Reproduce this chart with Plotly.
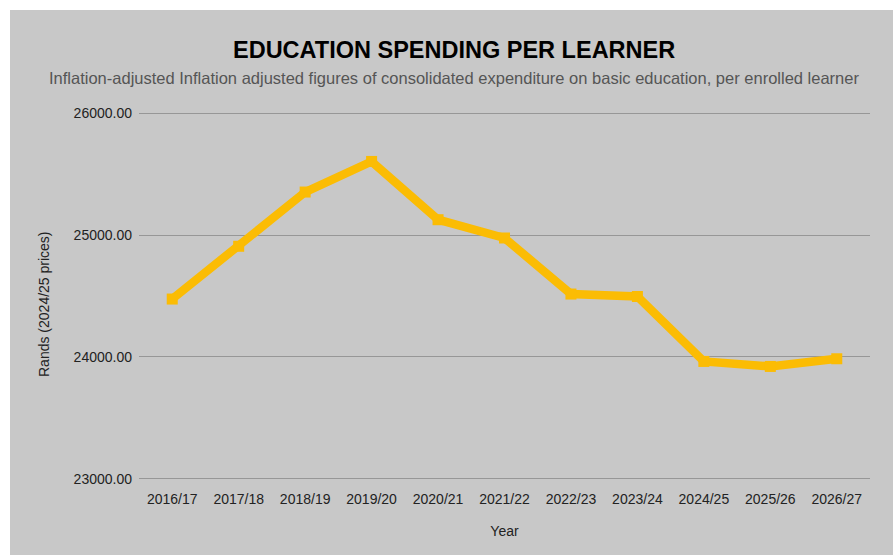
import plotly.graph_objects as go

# Financial years and inflation-adjusted spend per enrolled learner (Rands, 2024/25 prices)
years = ["2016/17", "2017/18", "2018/19", "2019/20", "2020/21", "2021/22",
         "2022/23", "2023/24", "2024/25", "2025/26", "2026/27"]
spend_per_learner = [24475, 24908, 25353, 25604, 25126, 24976,
                     24516, 24496, 23963, 23922, 23985]
y_ticks = [23000, 24000, 25000, 26000]

TITLE = "EDUCATION SPENDING PER LEARNER"
SUBTITLE = ("Inflation-adjusted Inflation adjusted figures of consolidated expenditure "
            "on basic education, per enrolled learner")
Y_TITLE = "Rands (2024/25 prices)"

FONT = "Liberation Sans, Arial, sans-serif"
BG = "#c8c8c8"
LINE = "#fbbc04"

W, H = 893, 555
L, R, T, B = 139, 23, 111, 74
PW, PH = W - L - R, H - T - B


def px_x(px):
    return (px - L) / PW


def px_y(py):
    return (H - B - py) / PH


fig = go.Figure(
    go.Scatter(
        x=years,
        y=spend_per_learner,
        mode="lines+markers",
        line=dict(color=LINE, width=8.5),
        marker=dict(color=LINE, symbol="square", size=11),
        hoverinfo="x+y",
    )
)

fig.update_layout(
    width=W,
    height=H,
    margin=dict(l=L, r=R, t=T, b=B, autoexpand=False),
    paper_bgcolor=BG,
    plot_bgcolor=BG,
    showlegend=False,
    font=dict(family=FONT, color="#222222", size=14),
    xaxis=dict(
        type="category",
        range=[-0.5, len(years) - 0.5],
        showgrid=False,
        zeroline=False,
        showline=False,
        ticks="",
        ticklabelstandoff=8,
        tickfont=dict(size=14, color="#222222"),
        title=dict(text="Year", font=dict(size=14, color="#222222"), standoff=20),
        fixedrange=True,
    ),
    yaxis=dict(
        # a small pad keeps the 23000 and 26000 gridlines inside the plot area
        range=[y_ticks[0] - 18, y_ticks[-1] + 18],
        tickvals=y_ticks,
        tickformat=".2f",
        showgrid=True,
        gridcolor="#979797",
        gridwidth=1.2,
        zeroline=False,
        showline=False,
        ticks="",
        ticklabelstandoff=6,
        tickfont=dict(size=14, color="#222222"),
        fixedrange=True,
    ),
    annotations=[
        dict(text="<b>" + TITLE + "</b>", xref="paper", yref="paper",
             x=px_x(454), y=px_y(50), xanchor="center", yanchor="middle",
             showarrow=False, font=dict(family=FONT, size=23.5, color="#000000")),
        dict(text=SUBTITLE, xref="paper", yref="paper",
             x=px_x(454), y=px_y(78), xanchor="center", yanchor="middle",
             showarrow=False, font=dict(family=FONT, size=16.5, color="#555555")),
        # vertical axis title, sitting slightly below the plot's midpoint
        dict(text=Y_TITLE, xref="paper", yref="paper", textangle=-90,
             x=px_x(44), y=px_y(304), xanchor="center", yanchor="middle",
             showarrow=False, font=dict(family=FONT, size=14, color="#222222")),
    ],
    shapes=[
        # white border strips along the top and left edges of the page
        dict(type="rect", xref="paper", yref="paper", layer="below",
             x0=px_x(0), x1=px_x(W), y0=px_y(10), y1=px_y(0),
             fillcolor="#ffffff", line=dict(width=0)),
        dict(type="rect", xref="paper", yref="paper", layer="below",
             x0=px_x(0), x1=px_x(10), y0=px_y(H), y1=px_y(0),
             fillcolor="#ffffff", line=dict(width=0)),
    ],
)

fig.write_html("out.html", config={"displayModeBar": False})
